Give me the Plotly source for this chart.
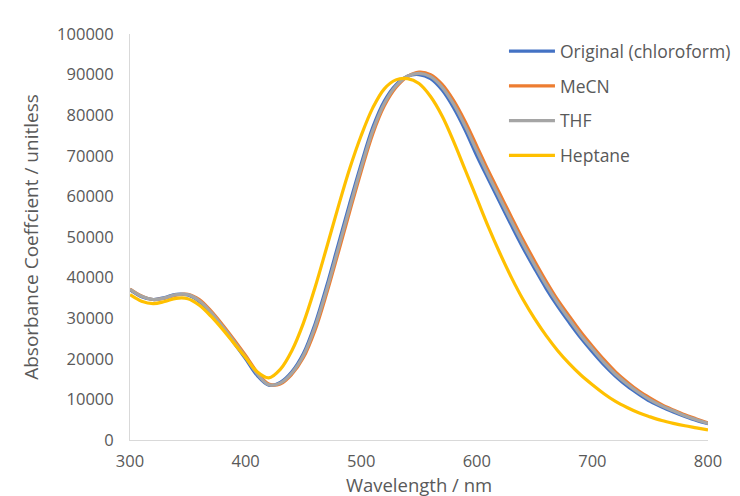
import plotly.graph_objects as go

wavelength = list(range(300, 801, 10))

original_chloroform = [
    37000, 35300, 34600, 35100, 35900, 35700, 34100, 31200, 27700, 23900,
    20000, 15900, 13500, 14200, 16800, 21300, 28500, 37800, 48000, 58200,
    68000, 77000, 83500, 87500, 89600, 90000, 89000, 86200, 81800, 76300,
    70000, 64200, 58500, 52800, 47300, 42200, 37300, 32900, 28900, 25100,
    21700, 18500, 15700, 13300, 11300, 9500, 8100, 6900, 5800, 4800,
    4000]

mecn = [
    37200, 35500, 34600, 34900, 35700, 35900, 34600, 31800, 28400, 24700,
    20800, 16700, 13800, 13800, 16200, 20300, 27000, 36000, 46000, 56200,
    66200, 75400, 82300, 86800, 89500, 90600, 90000, 87600, 83600, 78400,
    72400, 66300, 60600, 54900, 49300, 44100, 39100, 34500, 30500, 26600,
    23100, 19800, 16800, 14300, 12100, 10300, 8700, 7400, 6200, 5200,
    4200]

thf = [
    37100, 35400, 34600, 35000, 35800, 35800, 34300, 31500, 28000, 24300,
    20400, 16300, 13600, 14000, 16500, 20800, 27800, 36900, 47000, 57200,
    67100, 76200, 82900, 87200, 89600, 90300, 89500, 86900, 82700, 77300,
    71200, 65200, 59500, 53800, 48300, 43100, 38200, 33700, 29700, 25800,
    22400, 19100, 16200, 13800, 11700, 9900, 8400, 7200, 6000, 5000,
    4100]

heptane = [
    35800, 34200, 33600, 34100, 34900, 34800, 33200, 30500, 27300, 23800,
    20300, 16800, 15300, 17400, 22000, 28800, 37500, 47300, 57300, 66800,
    75000, 81800, 86500, 88700, 89000, 87800, 84600, 79800, 73500, 66500,
    59500, 52500, 46000, 40000, 34600, 29900, 25700, 22000, 18800, 16000,
    13600, 11400, 9500, 8000, 6700, 5700, 4800, 4100, 3500, 3000,
    2500]

series_names = ["Original (chloroform)", "MeCN", "THF", "Heptane"]
series_values = [original_chloroform, mecn, thf, heptane]
series_colors = ["#4472C4", "#ED7D31", "#A5A5A5", "#FFC000"]

x_ticks = [300, 400, 500, 600, 700, 800]
y_ticks = list(range(0, 100001, 10000))

fig = go.Figure()
for name, vals, col in zip(series_names, series_values, series_colors):
    fig.add_trace(go.Scatter(
        x=wavelength, y=vals, name=name, mode="lines",
        line=dict(color=col, width=3.2, shape="spline", smoothing=1.0),
        legendgroup=name,
    ))

font_family = "Open Sans, Liberation Sans, sans-serif"
fig.update_layout(
    width=740, height=496,
    margin=dict(l=122, r=32, t=26, b=64),
    paper_bgcolor="white", plot_bgcolor="white",
    font=dict(family=font_family, color="#595959", size=16),
    showlegend=True,
    legend=dict(
        x=0.647, y=1.002, xanchor="left", yanchor="top",
        bgcolor="rgba(0,0,0,0)", font=dict(size=17.5, color="#595959"),
        tracegroupgap=9, itemwidth=46,
    ),
    xaxis=dict(
        range=[300, 800], tickvals=x_ticks, showgrid=False, zeroline=False,
        showline=True, linecolor="#D9D9D9", linewidth=1, ticks="",
        ticklabelstandoff=6, tickfont=dict(size=16.5, color="#595959"),
        title=dict(text="Wavelength / nm", font=dict(size=18.5, color="#595959"), standoff=2),
        fixedrange=True,
    ),
    yaxis=dict(
        range=[0, 100000], tickvals=y_ticks, tickformat="d", showgrid=False,
        zeroline=False, showline=True, linecolor="#D9D9D9", linewidth=1, ticks="",
        ticklabelstandoff=12, tickfont=dict(size=16.5, color="#595959"),
        title=dict(text="Absorbance Coeffcient / unitless", font=dict(size=19, color="#595959"), standoff=13),
        fixedrange=True,
    ),
)

fig.write_html("out.html")
